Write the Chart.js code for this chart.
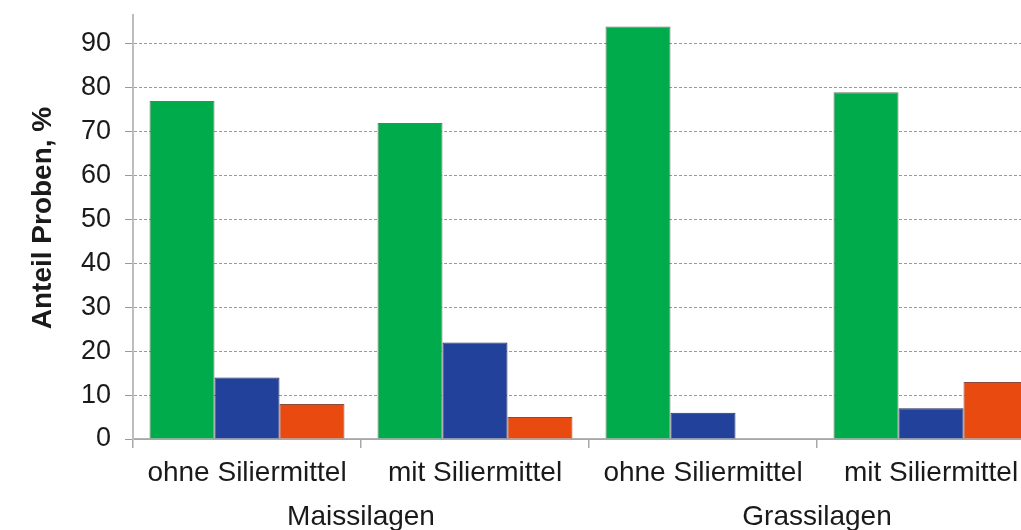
<!DOCTYPE html>
<html lang="de">
<head>
<meta charset="utf-8">
<title>Anteil Proben</title>
<script src="https://cdn.jsdelivr.net/npm/chart.js@4"></script>
<style>
  html, body { margin: 0; padding: 0; background: #fff; overflow: hidden; }
  #wrap { position: absolute; left: 0; top: 0; width: 1060px; height: 530px; }
</style>
</head>
<body>
<div id="wrap"><canvas id="chart"></canvas></div>
<script>
// Kategorien (untere Zeile) und Gruppen (zweite Zeile)
const categories = ['ohne Siliermittel', 'mit Siliermittel', 'ohne Siliermittel', 'mit Siliermittel'];
const groups = ['Maissilagen', 'Grassilagen'];
const yTitle = 'Anteil Proben, %';

// Anteil Proben in % je Klasse
const seriesGreen = [77, 72, 94, 79];
const seriesBlue  = [14, 22, 6, 7];
const seriesRed   = [8, 5, 0, 13];

const yTicks = [0, 10, 20, 30, 40, 50, 60, 70, 80, 90];
const yMax = 96.6;

const FONT = "'Liberation Sans', Arial, Helvetica, sans-serif";
const TEXT = '#1a1a1a';

// Gruppenbeschriftung unter den Kategorien und gedrehter Achsentitel
const extraLabels = {
  id: 'extraLabels',
  afterDraw(chart) {
    const x = chart.scales.x;
    const ctx = chart.ctx;
    ctx.save();
    ctx.font = '28px ' + FONT;
    ctx.fillStyle = TEXT;
    ctx.textAlign = 'center';
    ctx.textBaseline = 'middle';
    groups.forEach((g, i) => {
      const cx = (x.getPixelForValue(i * 2) + x.getPixelForValue(i * 2 + 1)) / 2;
      ctx.fillText(g, cx, 517);
    });
    ctx.translate(43, 218);
    ctx.rotate(-Math.PI / 2);
    ctx.font = 'bold 28px ' + FONT;
    ctx.fillText(yTitle, 0, 0);
    ctx.restore();
  }
};

new Chart(document.getElementById('chart'), {
  type: 'bar',
  data: {
    labels: categories,
    datasets: [
      { label: 'Klasse 1', data: seriesGreen, backgroundColor: '#00ab4b', borderColor: 'rgba(40,60,40,0.7)', borderWidth: 1 },
      { label: 'Klasse 2', data: seriesBlue,  backgroundColor: '#22419b', borderColor: 'rgba(10,20,70,0.9)', borderWidth: 1 },
      { label: 'Klasse 3', data: seriesRed,   backgroundColor: '#e84a10', borderColor: 'rgba(110,30,10,0.8)', borderWidth: 1 }
    ]
  },
  options: {
    responsive: true,
    maintainAspectRatio: false,
    animation: false,
    layout: { padding: { top: 15, right: 15, left: 0, bottom: 0 } },
    datasets: { bar: { barPercentage: 1.0, categoryPercentage: 0.855 } },
    plugins: {
      legend: { display: false },
      tooltip: { enabled: false }
    },
    scales: {
      x: {
        grid: {
          offset: true,
          drawOnChartArea: false,
          drawTicks: true,
          tickLength: 9,
          color: '#a8a8a8',
          lineWidth: 1.5
        },
        border: { display: true, color: '#b4b4b4', width: 1.5 },
        ticks: {
          color: TEXT,
          font: { family: FONT, size: 28 },
          padding: 8,
          maxRotation: 0,
          autoSkip: false
        },
        afterFit(scale) { scale.height = 91; }
      },
      y: {
        min: 0,
        max: yMax,
        afterBuildTicks(scale) {
          scale.ticks = yTicks.map(v => ({ value: v }));
        },
        grid: {
          color: '#9a9a9a',
          lineWidth: 1,
          tickLength: 8,
          drawTicks: true
        },
        border: {
          display: true,
          color: '#bdbdbd',
          width: 2,
          dash: (ctx) => (ctx.tick && ctx.tick.value === 0 ? [] : [3, 2])
        },
        ticks: {
          color: TEXT,
          font: { family: FONT, size: 27 },
          padding: 14
        },
        title: { display: false },
        afterFit(scale) {
          scale.width = 133;
          scale.paddingTop = 0;
          scale.paddingBottom = 0;
        }
      }
    }
  },
  plugins: [extraLabels]
});
</script>
</body>
</html>
